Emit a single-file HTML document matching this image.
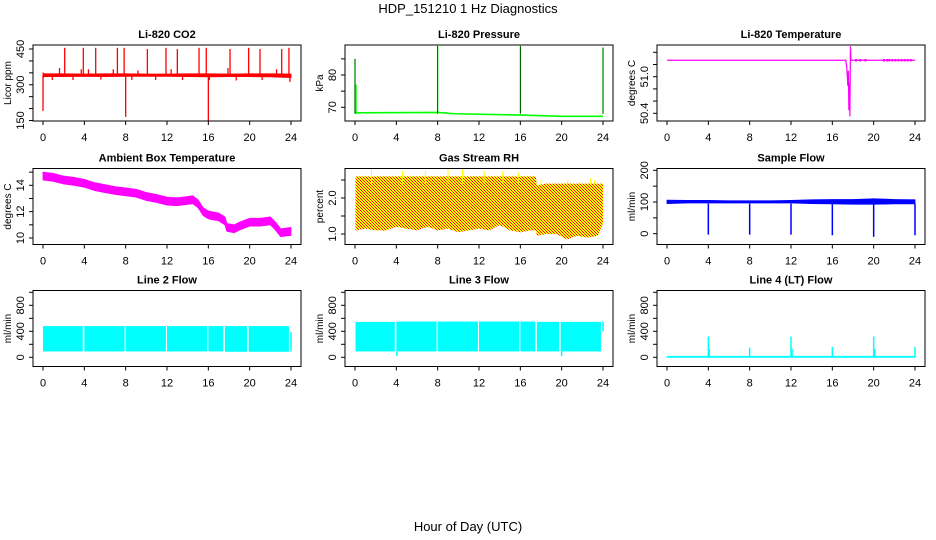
<!DOCTYPE html>
<html><head><meta charset="utf-8"><style>
body{margin:0;background:#fff}
svg{display:block;font-family:"Liberation Sans",sans-serif}
</style></head><body>
<svg id="chart" width="936" height="540" viewBox="0 0 936 540" xmlns="http://www.w3.org/2000/svg">
<defs>
<pattern id="rhpat" width="3" height="3" patternUnits="userSpaceOnUse">
<rect width="3" height="3" fill="#ffff00"/><rect width="1" height="1" fill="#ff0000"/><rect x="1" y="1" width="1" height="1" fill="#ff0000"/><rect x="2" y="2" width="1" height="1" fill="#ff3000"/>
</pattern>
</defs>
<text x="468" y="13" text-anchor="middle" font-size="13">HDP_151210  1 Hz Diagnostics</text>
<text x="468" y="531" text-anchor="middle" font-size="13">Hour of Day (UTC)</text>
</svg>
<script>
// ---- data ----
const xTicks=[0,4,8,12,16,20,24];
// CO2
const co2Hours=[0,0.1,2,4,6,8,10,12,14,16,18,20,22,24];
const co2Lo=[330,334,334,335,334,335,336,335,334,333,334,334,333,330];
const co2Hi=[350,346,346,345,346,346,345,345,346,346,345,346,346,345];
const co2SpikeHours=[2.1,3.9,5.1,7.2,7.85,10.1,11.9,13.0,15.1,15.8,18.1,19.9,21.0,23.1,23.8,1.6,3.7,4.4,6.8,9.2,12.4,17.9,22.6,0.0,8.0,16.0,16.1,0.9,2.9,5.6,8.6,10.9,13.5,18.7,21.2,23.9];
const co2SpikeVals=[455,455,455,455,455,450,455,450,455,455,450,455,450,450,455,370,365,365,365,360,365,370,365,190,165,150,320,320,320,322,320,320,320,318,320,312];
// Pressure
const presHours=[0,0.1,8,9.6,16,20,24];
const presVals=[68.3,68.3,68.4,68.0,67.6,67.2,67.2];
const presSpikeHours=[0.0,0.1,8.0,16.0,24.0];
const presSpikeVals=[85,77,89,89,88.5];
// Li-820 temperature
const tempHours=[0,17.3,17.4,17.5,17.55,17.6,17.65,17.7,17.75,17.8,24];
const tempVals=[51.27,51.27,51.15,50.85,51.1,50.45,50.9,50.35,51.5,51.27,51.27];
// Ambient box temperature
const ambHours=[0,1,2,3,4,5,6,7,8,9,10,11,12,13,14,14.5,15,15.5,16,17,17.6,17.8,18.5,19,20,21,22,22.5,23,24];
const ambVals=[14.7,14.6,14.4,14.3,14.15,13.9,13.75,13.6,13.5,13.4,13.15,13.0,12.8,12.75,12.85,12.9,12.6,12.0,11.75,11.6,11.3,10.8,10.7,10.9,11.2,11.2,11.3,10.9,10.4,10.5];
// Gas stream RH
const rhHours=[0.05,1,2,3,4,5,6,7,8,9,10,11,12,13,14,15,16,17,17.5,17.6,18.5,19.5,20.5,21.5,22.5,23.5,24];
const rhLo=[1.1,1.15,1.1,1.1,1.2,1.15,1.1,1.2,1.1,1.15,1.05,1.1,1.15,1.1,1.25,1.1,1.05,1.1,1.1,0.95,1.0,1.0,0.85,0.95,0.9,0.95,1.3];
const rhHi=[2.6,2.6,2.6,2.6,2.6,2.6,2.6,2.6,2.6,2.6,2.6,2.6,2.6,2.6,2.6,2.6,2.6,2.6,2.6,2.35,2.4,2.4,2.4,2.4,2.4,2.4,2.4];
// Sample flow
const flowHours=[0,2,4,6,8,10,12,14,16,18,20,22,24];
const flowLo=[95,97,97,97,97,97,97,95,94,93,93,94,94];
const flowHi=[106,105,105,104,104,104,105,107,108,108,110,108,107];
const flowDipHours=[4,8,12,16,20,24];
const flowDipVals=[-3,-3,-3,-5,-10,-5];
// Line flows: segments between gaps
const l2Starts=[0,4.0,8.0,12.0,16.0,17.6,19.9];
const l2Ends=[3.85,7.9,11.9,15.9,17.45,19.75,23.8];
const l2Lo=[90,90,90,90,90,85,85];
const l2Hi=[480,480,480,480,480,480,480];
const l3Starts=[0.05,4.0,8.0,12.0,16.0,17.6,19.9];
const l3Ends=[3.85,7.9,11.9,15.9,17.45,19.75,23.8];
const l3Lo=[90,90,90,90,90,90,90];
const l3Hi=[545,550,550,550,550,545,545];
const l4Hours=[4.0,4.1,8.0,12.0,12.1,16.0,20.0,20.1,24.0];
const l4Vals=[320,130,150,320,130,160,320,130,160];

// ---- layout ----
const NS="http://www.w3.org/2000/svg";
const svg=document.getElementById('chart');
function el(tag,attrs,parent){const e=document.createElementNS(NS,tag);for(const k in attrs)e.setAttribute(k,attrs[k]);(parent||svg).appendChild(e);return e;}
const colX=[0,312,624];
const rowY=[0,123.5,245.5];
function makePanel(name,col,row,title,ylabel,v1,y1,v2,y2,ticks,labels){
  const ox=colX[col],oy=rowY[row];
  const g=el('g',{});
  
  
  const xs=h=>ox+43+h*(248/24);
  const ys=v=>y1+(v-v1)*(y2-y1)/(v2-v1);
  const t=el('text',{x:ox+167,y:oy+38,'text-anchor':'middle','font-size':11,'font-weight':'bold'},g);
  t.textContent=title;
  
  
  const box=el('rect',{x:ox+33,y:oy+45,width:268,height:76,fill:'none',stroke:'#000','stroke-width':1},g);
  
  
  xTicks.forEach(h=>{
    el('line',{x1:xs(h),x2:xs(h),y1:oy+121,y2:oy+125,stroke:'#000'},g);
    const tl=el('text',{x:xs(h),y:oy+141,'text-anchor':'middle','font-size':11},g);
    tl.textContent=h;
    
    
  });
  ticks.forEach(v=>{el('line',{x1:ox+29,x2:ox+33,y1:ys(v),y2:ys(v),stroke:'#000'},g);});
  labels.forEach(v=>{
    const yy=ys(parseFloat(v));
    const tl=el('text',{x:0,y:0,'text-anchor':'middle','font-size':11,transform:`translate(${ox+24},${yy}) rotate(-90)`},g);
    tl.textContent=v;
    
    
  });
  const yl=el('text',{x:0,y:0,'text-anchor':'middle','font-size':10,transform:`translate(${ox+11},${oy+83}) rotate(-90)`},g);
  yl.textContent=ylabel;
  
  
  const d=el('g',{},g);
  
  
  return {xs,ys,g:d};
}
function band(p,hours,lo,hi,fill){
  let pts=hours.map((h,i)=>p.xs(h)+','+p.ys(hi[i]));
  for(let i=hours.length-1;i>=0;i--)pts.push(p.xs(hours[i])+','+p.ys(lo[i]));
  return el('polygon',{points:pts.join(' '),fill:fill,stroke:fill,'stroke-width':0.8},p.g);
}
function spikes(p,hours,base,vals,col,w){
  hours.forEach((h,i)=>{
    const b=Array.isArray(base)?base[i]:base;
    const s=el('line',{x1:p.xs(h),x2:p.xs(h),y1:p.ys(b),y2:p.ys(vals[i]),stroke:col,'stroke-width':w||1.3},p.g);
    
    
  });
}
function line(p,hours,vals,col,w){
  return el('polyline',{points:hours.map((h,i)=>p.xs(h)+','+p.ys(vals[i])).join(' '),fill:'none',stroke:col,'stroke-width':w||1},p.g);
}
// Panel 1 CO2
let p=makePanel('co2',0,0,'Li-820 CO2','Licor ppm',450,49,150,120.5,[150,200,250,300,350,400,450],['150','300','450']);
band(p,co2Hours,co2Lo,co2Hi,'#ff0000');
spikes(p,co2SpikeHours,340,co2SpikeVals,'#ff0000',1.3);
// Panel 2 Pressure
p=makePanel('pressure',1,0,'Li-820 Pressure','kPa',70,107.3,80,75,[70,75,80,85],['70','80']);
line(p,presHours,presVals,'#00ff00',1.6);
spikes(p,presSpikeHours,68,presSpikeVals,'#00ff00',1.3);
spikes(p,[0,8,16,24],68,[85,89,89,88.5],'#000',0.6);
// Panel 3 temperature
p=makePanel('li820-temp',2,0,'Li-820 Temperature','degrees C',50.4,113.3,51.0,76.7,[50.4,50.6,50.8,51.0,51.2,51.4],['50.4','51.0']);
line(p,tempHours,tempVals,'#ff00ff',1.2);
spikes(p,[18.3,18.7,19.2,21,21.3,21.5,21.8,22.1,22.4,22.7,23,23.3,23.6],51.25,[51.29,51.29,51.29,51.29,51.29,51.29,51.29,51.29,51.29,51.29,51.29,51.29,51.29],'#ff00ff',2);
// Panel 4 Ambient
p=makePanel('ambient-temp',0,1,'Ambient Box Temperature','degrees C',10,238,14,185.3,[10,11,12,13,14,15],['10','12','14']);
band(p,ambHours,ambVals.map(v=>v-0.3),ambVals.map(v=>v+0.3),'#ff00ff');
// Panel 5 RH
p=makePanel('rh',1,1,'Gas Stream RH','percent',1,234,2,198,[1,1.5,2,2.5],['1.0','2.0']);
band(p,rhHours,rhLo,rhHi,'url(#rhpat)').setAttribute('stroke','none');
spikes(p,[1.6,4.6,6.8,9.0,10.4,12.5,14.3,15.8,18.0,20.6,22.8,23.2],2.4,[2.8,2.75,2.75,2.8,2.8,2.75,2.75,2.7,2.5,2.5,2.55,2.5],'#ffff00',1);
// Panel 6 Sample flow
p=makePanel('sample-flow',2,1,'Sample Flow','ml/min',0,233.7,100,202,[0,50,100,150,200],['0','100','200']);
band(p,flowHours,flowLo,flowHi,'#0000ff');
spikes(p,flowDipHours,95,flowDipVals,'#0000ff',1.5);
// Panels 7-9 line flows
const lt=[0,200,400,600,800,1000], ll=['0','400','800'];
function segs(p,st,en,lo,hi){st.forEach((s,i)=>{const r=el('rect',{x:p.xs(s),y:p.ys(hi[i]),width:p.xs(en[i])-p.xs(s),height:p.ys(lo[i])-p.ys(hi[i]),fill:'#00ffff'},p.g);});}
p=makePanel('line2-flow',0,2,'Line 2 Flow','ml/min',0,357.3,400,331.3,lt,ll);
segs(p,l2Starts,l2Ends,l2Lo,l2Hi);
spikes(p,[24],90,[390],'#00ffff',1.5);
p=makePanel('line3-flow',1,2,'Line 3 Flow','ml/min',0,357.3,400,331.3,lt,ll);
segs(p,l3Starts,l3Ends,l3Lo,l3Hi);
spikes(p,[4.05,20.0,24],[90,90,400],[20,20,550],'#00ffff',1.5);
p=makePanel('line4-flow',2,2,'Line 4 (LT) Flow','ml/min',0,357.3,400,331.3,lt,ll);
band(p,[0,24],[0,0],[15,15],'#00ffff');
spikes(p,l4Hours,0,l4Vals,'#00ffff',1.5);
</script>
</body></html>
